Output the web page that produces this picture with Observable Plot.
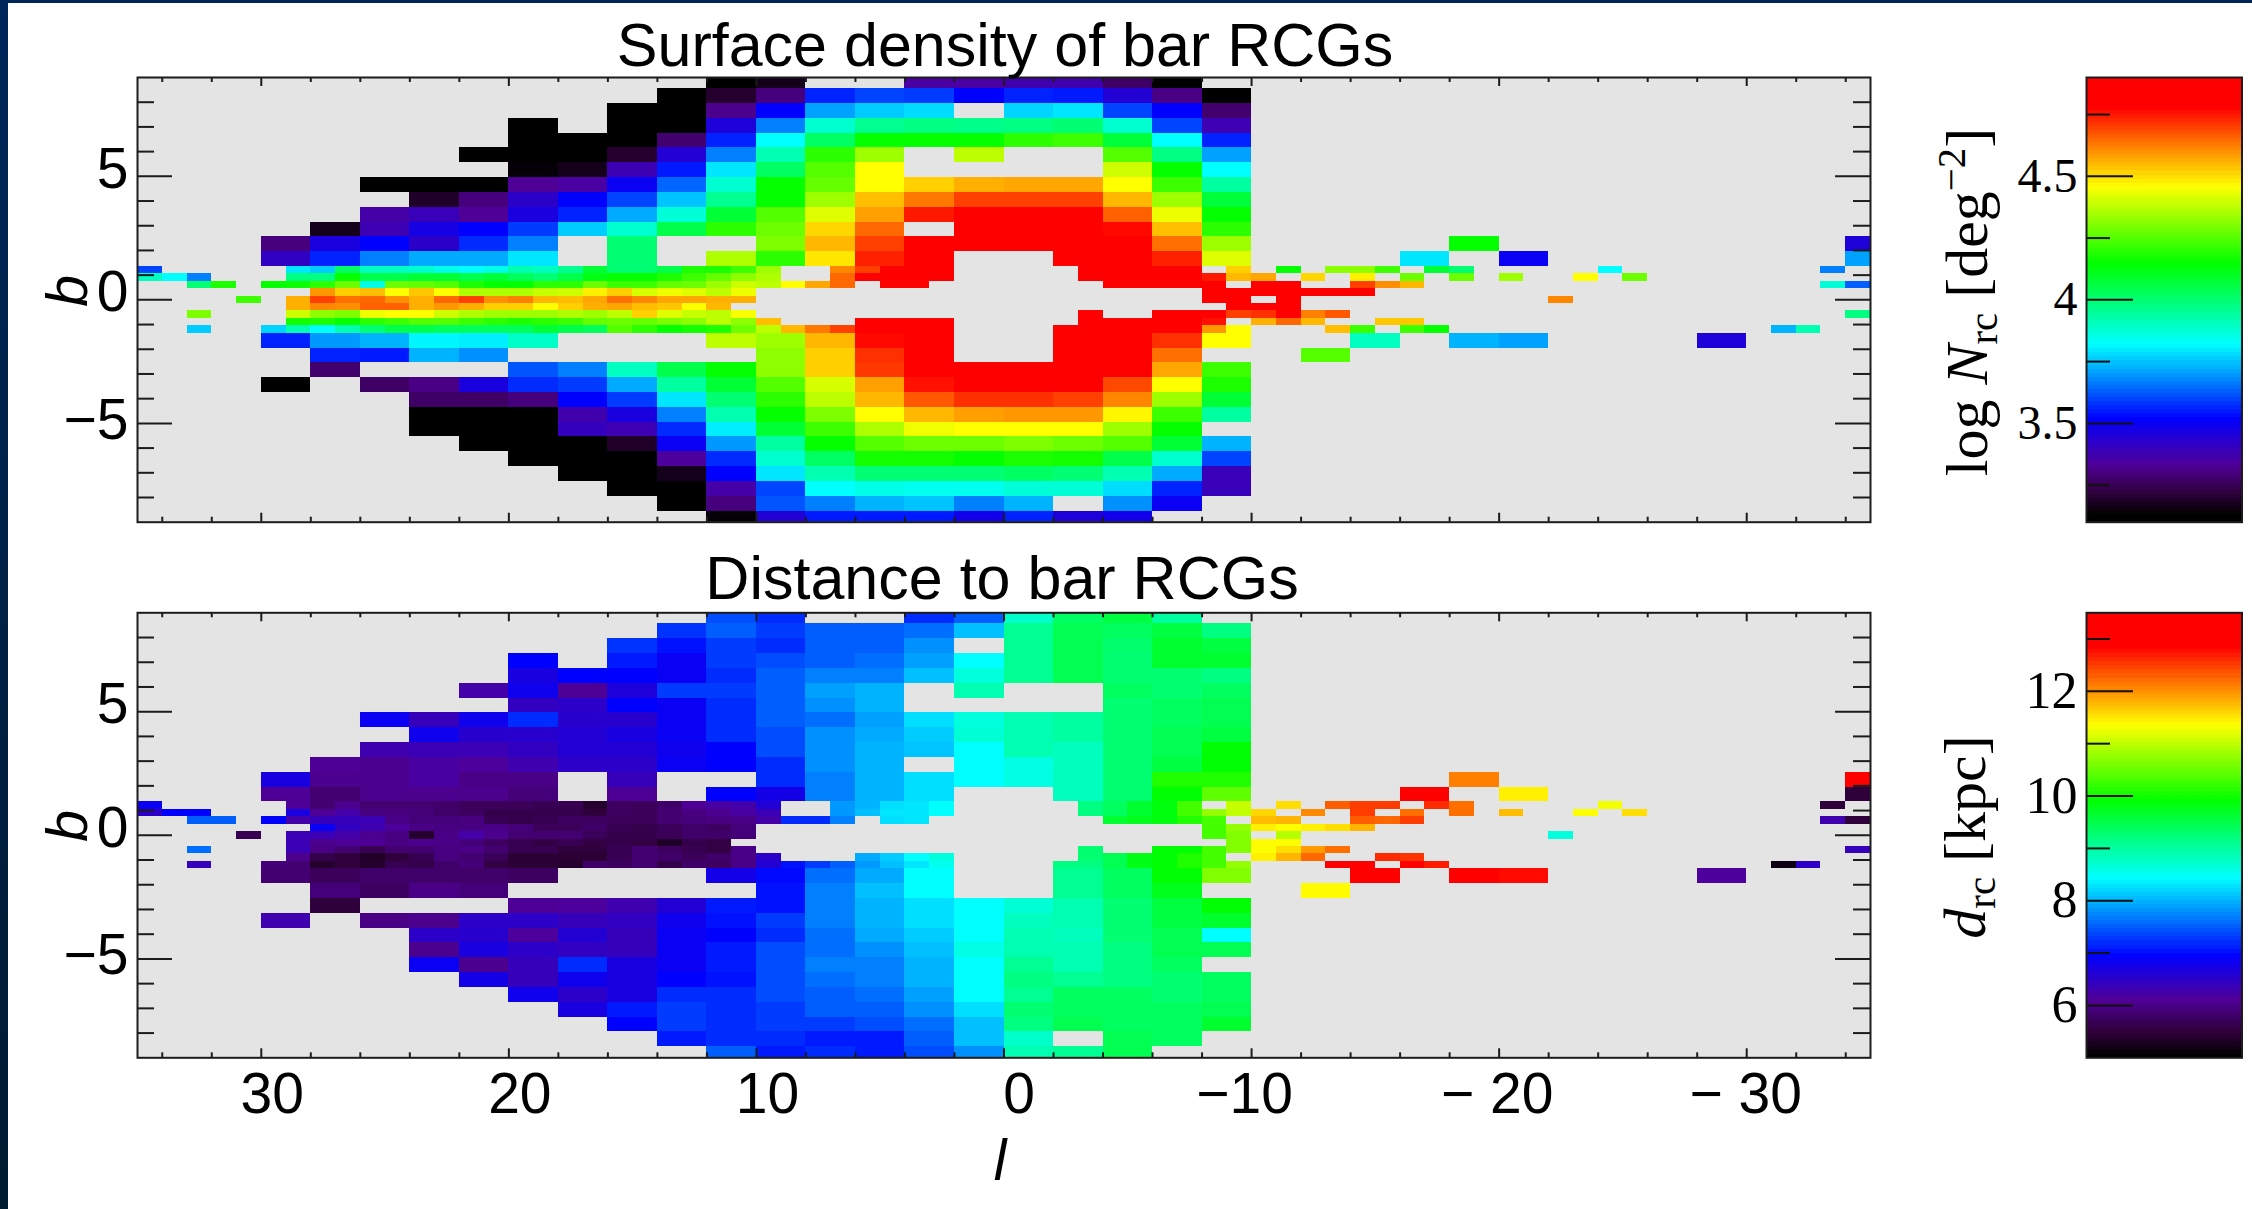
<!DOCTYPE html>
<html><head><meta charset="utf-8">
<script src="https://cdn.jsdelivr.net/npm/d3@7"></script>
<script src="https://cdn.jsdelivr.net/npm/@observablehq/plot@0.6"></script>
<style>
html,body{margin:0;padding:0;background:#fff;}
#page{position:relative;width:2252px;height:1209px;overflow:hidden;background:#fff;font-family:"Liberation Sans",sans-serif;color:#000;}
#page>div.plot{position:absolute;}
.t{position:absolute;white-space:nowrap;transform:translate(-50%,-50%);line-height:1;}
.r{transform:translate(-50%,-50%) rotate(-90deg);}
.s{font-family:"Liberation Serif",serif;}
.s sub{font-size:.68em;vertical-align:-.25em;line-height:0;}
.s sup{font-size:.68em;vertical-align:.55em;line-height:0;}
#sl{position:absolute;left:0;top:0;width:8px;height:1209px;background:linear-gradient(#00265a,#001a30);}
#st{position:absolute;left:0;top:0;width:2252px;height:3px;background:#00265a;}
</style></head><body><div id="page"><div id="sl"></div><div id="st"></div></div>
<script>
const _ = null;
// outer 2-degree columns: left edges of the twenty columns (l descending)
const outerLeft = [30,28,26,24,22,20,18,16,14,12,10,8,6,4,2,0,-2,-4,-6,-8];
// top edges of outer rows (top to bottom), each 0.6 deg tall
const upperTops = [9.15,8.55,7.95,7.35,6.75,6.15,5.55,4.95,4.35,3.75,3.15,2.55,1.95];
const lowerTops = [-1.35,-1.95,-2.55,-3.15,-3.75,-4.35,-4.95,-5.55,-6.15,-6.75,-7.35,-7.95,-8.55];
// top edges of the 0.3 deg inner rows, which have 1-degree columns
const innerTops = [1.35,1.05,0.75,0.45,0.15,-0.15,-0.45,-0.75,-1.05];

// log N_rc, upper rows from the top
const nU13=[_,_,_,_,_,_,_,_,_,3.12,3.17,_,_,3.35,3.35,3.37,3.37,3.27,3.12,_];
const nU12=[_,_,_,_,_,_,_,_,3.12,3.2,3.3,3.56,3.6,3.59,3.52,3.56,3.55,3.44,3.31,3.12];
const nU11=[_,_,_,_,_,_,_,3.12,3.12,3.32,3.52,3.71,3.76,3.78,_,3.77,3.79,3.6,3.52,3.28];
const nU10=[_,_,_,_,_,3.12,_,3.12,3.12,3.45,3.67,3.88,3.96,3.98,3.97,3.98,4.0,3.88,3.6,3.38];
const nU9=[_,_,_,_,_,3.12,3.12,3.12,3.28,3.56,3.82,4.02,4.15,4.15,4.15,4.2,4.22,4.07,3.82,3.56];
const nU8=[_,_,_,_,3.12,3.12,3.12,3.2,3.44,3.67,3.92,4.2,4.34,_,4.38,_,_,4.25,3.98,3.71];
const nU7=[_,_,_,_,_,3.14,3.17,3.38,3.55,3.79,4.02,4.25,4.46,_,_,_,_,4.4,4.15,3.82];
const nU6=[_,_,3.12,3.12,3.12,3.33,3.35,3.5,3.64,3.88,4.15,4.27,4.46,4.52,4.56,4.57,4.57,4.46,4.22,3.94];
const nU5=[_,_,_,3.19,3.3,3.42,3.52,3.6,3.75,3.96,4.15,4.34,4.54,4.63,4.7,4.7,4.7,4.55,4.34,4.07];
const nU4=[_,_,3.36,3.39,3.33,3.46,3.56,3.72,3.87,4.08,4.25,4.42,4.58,4.75,4.85,4.85,4.85,4.66,4.44,4.15];
const nU3=[_,3.17,3.38,3.47,3.52,3.59,3.76,3.88,4.05,4.2,4.28,4.51,4.65,_,4.85,4.85,4.85,4.77,4.54,4.2];
const nU2=[3.3,3.46,3.52,3.42,3.57,3.67,_,4.0,_,_,4.3,4.55,4.7,4.85,4.85,4.85,4.85,4.85,4.64,4.34];
const nU1=[3.41,3.56,3.67,3.72,3.72,3.79,_,4.0,_,4.36,4.2,4.49,4.74,4.85,_,_,4.85,4.85,4.74,4.42];
// log N_rc, lower rows
const nL1=[3.56,3.7,3.73,3.81,3.8,3.89,_,_,_,4.38,4.34,4.55,4.77,4.85,_,_,4.85,4.85,4.72,4.46];
const nL2=[_,3.56,3.55,3.73,3.69,_,_,_,_,_,4.32,4.52,4.72,4.85,_,_,4.85,4.85,4.64,_];
const nL3=[_,3.28,_,_,_,3.62,3.67,3.9,4.05,4.15,4.32,4.52,4.71,4.85,4.85,4.85,4.85,4.78,4.57,4.22];
const nL4=[3.12,_,3.27,3.31,3.46,3.57,3.59,3.72,3.94,4.08,4.25,4.41,4.58,4.76,4.85,4.85,4.85,4.69,4.46,4.18];
const nL5=[_,_,_,3.27,3.27,3.3,3.52,3.59,3.79,4.0,4.2,4.38,4.55,4.67,4.72,4.72,4.7,4.61,4.34,4.08];
const nL6=[_,_,_,3.12,3.12,3.13,3.37,3.46,3.67,3.92,4.15,4.3,4.46,4.55,4.58,4.59,4.59,4.47,4.22,3.94];
const nL7=[_,_,_,3.12,3.12,3.12,3.4,3.38,3.57,3.8,4.08,4.22,4.36,4.44,4.46,4.46,4.46,4.34,4.15,_];
const nL8=[_,_,_,_,3.12,3.12,3.12,3.19,3.5,3.7,3.94,4.15,4.25,4.28,4.28,4.3,4.28,4.25,4.08,3.73];
const nL9=[_,_,_,_,_,3.12,3.12,3.12,3.34,3.57,3.88,4.02,4.17,4.17,4.15,4.18,4.17,4.05,3.88,3.6];
const nL10=[_,_,_,_,_,_,3.12,3.12,3.17,3.52,3.79,3.92,4.0,4.0,4.0,4.02,4.0,3.92,3.72,3.39];
const nL11=[_,_,_,_,_,_,_,3.12,3.12,3.36,3.6,3.82,3.85,3.84,3.84,3.87,3.87,3.78,3.56,3.39];
const nL12=[_,_,_,_,_,_,_,_,3.12,3.3,3.62,3.67,3.73,3.75,3.67,3.73,_,3.69,3.5,_];
const nL13=[_,_,_,_,_,_,_,_,_,3.14,3.44,3.55,3.55,3.55,3.48,3.56,3.45,3.48,_,_];
// isolated 2-degree cells: [left l, top b, value]
const nTail=[[-18,2.55,4.15],[-16,1.95,3.79],[-20,1.95,3.5],[-34,2.55,3.45],[-34,1.95,3.71],[-14,-1.35,3.9],[-18,-1.35,3.73],[-20,-1.35,3.71],[-28,-1.35,3.45],[-12,-1.95,4.25]];
// inner rows: runs of 1-degree cells, [left l of the run, values...]
const nI1=[[35,3.6],[29,3.79,3.76,4.02,3.9,3.9,3.88,3.85,3.82,3.85,3.92,3.9,3.96,4.08,4.0,4.0,4.05,4.18,4.18,4.22,4.34],[7,4.61,4.7,4.85,4.85,4.85],[-3,4.85,4.85,4.85,4.85,4.85],[-9,4.52],[-11,4.15],[-13,4.32,4.32,4.22],[-17,4.08,4.0],[-24,3.82],[-33,3.67]];
const nI2=[[35,3.9,3.82,3.67],[29,3.98,3.98,4.15,4.05,4.05,4.08,4.08,4.05,4.07,4.03,4.0,4.05,4.12,4.15,4.15,4.18,4.22,4.27,4.32,4.36],[7,4.65,4.8,4.85,4.85,4.85],[-3,4.85,4.85,4.85,4.85,4.85,4.75,4.55,4.57],[-12,4.51],[-14,4.48],[-16,4.28],[-18,4.28],[-20,4.34],[-23,4.46],[-25,4.28]];
const nI3=[[33,4.0,4.18],[30,4.15,4.16,4.2,4.28,3.85,4.28,4.27,4.25,4.18,4.15,4.15,4.2,4.2,4.28,4.22,4.22,4.27,4.28,4.34,4.4,4.38,4.46,4.57,4.65],[5,4.85,4.85],[-4,4.85,4.85,4.85,4.85,4.85],[-10,4.85,4.85],[-14,4.7,4.6,4.55],[-33,3.87,3.63]];
const nI4=[[28,4.59,4.52,4.54,4.46,4.53,4.46,4.36,4.36,4.36,4.39,4.4,4.48,4.52,4.41,4.44,4.42,4.38,4.44],[-8,4.85,4.85,4.85,4.85,4.85,4.85,4.85]];
const nI5=[[31,4.22],[29,4.56,4.7,4.64,4.65,4.6,4.56,4.65,4.7,4.6,4.62,4.55,4.54,4.57,4.64,4.61,4.57,4.57,4.56,4.56],[-8,4.85,4.85],[-11,4.85],[-22,4.61]];
const nI6=[[29,4.56,4.61,4.6,4.66,4.66,4.56,4.59,4.56,4.52,4.52,4.46,4.52,4.56,4.57,4.54,4.53,4.46,4.55],[-9,4.85,4.85,4.85]];
const nI7=[[33,4.3],[29,4.4,4.32,4.3,4.44,4.46,4.46,4.4,4.36,4.34,4.34,4.34,4.36,4.34,4.38,4.52,4.42,4.39,4.38,4.45],[-3,4.85],[-6,4.85,4.85,4.85,4.7,4.72,4.85,4.62,4.67],[-34,3.98]];
const nI8=[[29,4.17,4.18,4.15,4.2,4.22,4.25,4.25,4.22,4.2,4.18,4.2,4.22,4.27,4.28,4.27,4.3,4.32,4.38,4.32,4.54],[6,4.85,4.85,4.85,4.85],[-3,4.85,4.85,4.85,4.85,4.85,4.76],[-10,4.56,4.65,4.55],[-15,4.53,4.53]];
const nI9=[[33,3.76],[30,3.77,3.92,3.82,3.92,4.0,4.05,4.05,4.03,4.03,4.03,4.03,4.08,4.05,4.03,4.25,4.2,4.15,4.17,4.18,4.28,4.38,4.55,4.63,4.7],[6,4.85,4.85,4.85,4.85],[-2,4.85,4.85,4.85,4.85,4.85,4.78,4.59,4.46],[-13,4.54,4.22],[-16,4.22,4.15],[-31,3.73,3.92]];

// d_rc in kpc
const dU13=[_,_,_,_,_,_,_,_,_,7.4,7.2,_,_,7.2,7.5,8.75,9.35,9.55,9.0,_];
const dU12=[_,_,_,_,_,_,_,_,7.25,7.5,7.3,7.5,7.5,7.6,8.08,9.08,9.46,9.37,9.55,9.18];
const dU11=[_,_,_,_,_,_,_,7.25,7.05,7.3,7.2,7.5,7.5,7.8,_,9.08,9.46,9.3,9.65,9.55];
const dU10=[_,_,_,_,_,6.95,_,7.1,6.85,7.3,7.4,7.5,7.6,7.89,8.45,9.08,9.46,9.27,9.65,9.65];
const dU9=[_,_,_,_,_,6.7,6.95,6.95,6.85,7.2,7.5,7.7,7.7,8.08,8.65,9.08,9.46,9.27,9.27,9.18];
const dU8=[_,_,_,_,6.25,6.8,6.1,6.65,7.3,7.3,7.5,7.89,8.0,_,8.9,_,_,9.37,9.27,9.37];
const dU7=[_,_,_,_,_,6.45,6.5,6.95,6.85,7.2,7.5,7.8,8.0,_,_,_,_,9.27,9.37,9.46];
const dU6=[_,_,6.85,6.4,6.8,7.2,6.55,6.55,6.85,7.2,7.5,7.6,7.89,8.26,8.65,8.9,9.0,9.27,9.37,9.46];
const dU5=[_,_,_,6.8,6.55,6.55,6.6,6.7,6.85,7.2,7.4,7.8,7.95,8.15,8.7,8.9,9.0,9.27,9.46,9.55];
const dU4=[_,_,6.3,6.35,6.35,6.45,6.6,6.6,6.8,6.95,7.4,7.8,8.0,8.1,8.45,8.9,8.82,9.27,9.46,9.9];
const dU3=[_,6.1,6.05,6.2,6.15,6.3,6.5,6.5,6.85,6.95,7.2,7.8,8.0,_,8.45,8.6,8.82,9.27,9.55,9.9];
const dU2=[6.7,6.05,6.05,6.2,6.0,6.0,_,6.4,_,_,7.2,7.7,8.0,8.26,8.45,8.6,8.82,9.27,10.1,10.1];
const dU1=[6.1,5.85,6.05,6.05,6.05,5.9,_,6.1,_,6.95,6.75,7.7,8.0,8.26,_,_,8.82,9.27,9.9,10.45];
const dL1=[5.85,5.7,5.8,5.8,5.8,5.75,_,_,_,6.75,7.0,7.6,7.95,8.45,_,_,9.08,9.37,9.9,10.65];
const dL2=[_,5.9,5.75,6.0,5.9,_,_,_,_,_,7.05,7.7,8.08,8.45,_,_,9.08,9.37,9.75,_];
const dL3=[_,5.5,_,_,_,6.1,6.15,6.3,6.6,7.1,7.05,7.7,8.0,8.26,8.45,8.7,8.9,9.27,9.55,9.9];
const dL4=[6.3,_,6.0,6.05,6.5,6.5,6.4,6.45,6.8,7.05,7.3,7.7,8.0,8.26,8.45,8.82,8.9,9.27,9.55,9.65];
const dL5=[_,_,_,6.5,6.55,6.15,6.6,6.4,6.85,6.95,7.2,7.6,7.95,8.15,8.45,8.9,8.82,9.27,9.46,8.45];
const dL6=[_,_,_,6.05,6.7,6.5,6.45,6.4,6.85,7.1,7.4,7.6,7.8,8.08,8.6,8.9,8.9,9.18,9.46,9.46];
const dL7=[_,_,_,6.85,6.05,6.4,7.2,6.7,6.85,7.1,7.4,7.7,7.7,8.0,8.45,9.08,8.9,9.18,9.37,_];
const dL8=[_,_,_,_,6.75,6.4,6.8,6.7,6.95,7.05,7.4,7.6,7.7,8.0,8.45,9.18,9.08,9.18,9.27,9.37];
const dL9=[_,_,_,_,_,6.8,6.5,6.7,7.2,7.2,7.4,7.5,7.6,7.89,8.45,9.08,9.37,9.37,9.27,9.37];
const dL10=[_,_,_,_,_,_,6.7,7.1,7.3,7.2,7.3,7.5,7.5,7.8,8.26,9.27,9.37,9.37,9.37,9.46];
const dL11=[_,_,_,_,_,_,_,6.95,7.3,7.2,7.3,7.3,7.4,7.6,8.08,9.18,9.46,9.37,9.37,9.65];
const dL12=[_,_,_,_,_,_,_,_,7.1,7.2,7.2,7.1,7.1,7.5,8.08,8.75,_,9.46,9.37,_];
const dL13=[_,_,_,_,_,_,_,_,_,7.5,7.1,7.2,7.1,7.4,7.8,8.9,9.08,9.46,_,_];
const dTail=[[-18,2.55,12.1],[-16,1.95,12.85],[-20,1.95,11.45],[-34,2.55,13],[-34,1.95,5.5],[-14,-1.35,13],[-18,-1.35,13],[-20,-1.35,12.8],[-28,-1.35,6.15],[-12,-1.95,11.38]];
const dI1=[[35,6.85],[29,6.1,5.85,6.05,5.85,5.85,5.85,5.8,5.7,5.7,5.7,5.65,5.65,5.4,5.75,5.7,5.8,6.1,6.2,6.25,6.6],[7,7.85,8.0,8.26,8.3,8.45],[-3,9.18,9.37,9.65,9.85,10.3],[-9,11.05],[-11,11.55],[-13,12.3,12.5,12.5],[-17,12.6,12.2],[-24,11.3],[-33,5.5]];
const dI2=[[35,6.5,6.95,6.95],[29,6.7,6.1,6.25,5.95,5.95,5.9,5.8,5.75,5.6,5.6,5.6,5.6,5.5,5.75,5.7,5.85,5.95,6.05,6.2,6.35],[7,7.85,8.08,8.3,8.3,8.45],[-3,9.18,9.37,9.65,9.85,10.3,10.75,11.0,11.6],[-12,12.05],[-14,12.5],[-16,12.2],[-18,12.2],[-20,11.75],[-23,11.35],[-25,11.55]];
const dI3=[[33,7.5,7.5],[30,6.95,6.25,6.4,6.4,6.35,6.0,5.9,5.9,5.95,5.65,5.6,5.65,5.75,5.75,5.7,5.7,5.85,5.9,5.95,6.0,6.25,7.2,7.2,7.7],[5,8.26,8.3],[-4,9.65,9.75,9.85,10.1,10.3],[-10,11.75,11.8],[-14,12.3,12.25,12.5],[-33,6.3,5.5]];
const dI4=[[28,6.85,6.45,6.3,6.15,6.0,5.95,5.95,6.0,5.9,5.7,5.7,5.8,5.65,5.6,5.7,5.8,5.75,5.9],[-8,10.3,10.75,11.45,11.35,11.45,11.55,11.8]];
const dI5=[[31,5.65],[29,6.35,6.35,6.25,6.05,5.95,5.4,6.0,6.25,6.05,5.85,5.85,5.85,5.7,5.6,5.6,5.7,5.8,5.8,5.9],[-8,10.3,10.65],[-11,10.95],[-22,8.65]];
const dI6=[[29,6.35,6.05,6.1,6.1,5.95,6.05,6.0,5.9,5.75,5.65,5.55,5.65,5.55,5.6,5.55,5.35,5.6,5.55],[-9,10.65,11.38,11.35]];
const dI7=[[33,7.6],[29,6.35,6.0,5.85,5.65,5.85,5.85,5.95,6.0,5.85,5.65,5.65,5.5,5.5,5.65,5.85,5.75,5.65,5.55,6.0],[-3,9.27],[-6,9.9,9.9,10.3,10.65,11.35,11.55,11.95,12.2],[-34,6.4]];
const dI8=[[29,6.05,5.6,5.5,5.35,5.5,5.65,5.95,5.85,5.7,5.45,5.45,5.45,5.45,5.65,5.85,5.8,5.7,5.8,6.0,6.5],[6,7.95,8.15,8.45,8.65],[-3,9.27,9.46,9.8,9.9,10.1,10.3],[-10,11.45,11.8,12.25],[-15,12.6,12.55]];
const dI9=[[33,6.4],[30,5.9,5.85,5.4,5.5,5.4,5.65,5.6,5.8,5.9,5.55,5.45,5.45,5.4,5.8,5.75,5.85,5.6,5.8,5.75,6.0,6.6,7.05,7.3,7.5],[6,7.85,8.08,8.3,8.55],[-2,9.18,9.18,9.46,9.8,9.9,10.1,10.3,10.75],[-13,13,13],[-16,13,12.7],[-31,5.2,6.5]];

const nUpper=[nU13,nU12,nU11,nU10,nU9,nU8,nU7,nU6,nU5,nU4,nU3,nU2,nU1];
const nLower=[nL1,nL2,nL3,nL4,nL5,nL6,nL7,nL8,nL9,nL10,nL11,nL12,nL13];
const nInner=[nI1,nI2,nI3,nI4,nI5,nI6,nI7,nI8,nI9];
const dUpper=[dU13,dU12,dU11,dU10,dU9,dU8,dU7,dU6,dU5,dU4,dU3,dU2,dU1];
const dLower=[dL1,dL2,dL3,dL4,dL5,dL6,dL7,dL8,dL9,dL10,dL11,dL12,dL13];
const dInner=[dI1,dI2,dI3,dI4,dI5,dI6,dI7,dI8,dI9];

// axis ticks and labels
const lMajor=[30,20,10,0,-10,-20,-30];
const lMinor=[34,32,28,26,24,22,18,16,14,12,8,6,4,2,-2,-4,-6,-8,-12,-14,-16,-18,-22,-24,-26,-28,-32,-34];
const bMajor=[5,0,-5];
const bMinor=[8,7,6,4,3,2,1,-1,-2,-3,-4,-6,-7,-8];
const lLabels=new Map([[30,"30"],[20,"20"],[10,"10"],[0,"0"],[-10,"\u221210"],[-20,"\u2212 20"],[-30,"\u2212 30"]]);
const bLabels=new Map([[5,"5"],[0,"0"],[-5,"\u22125"]]);
const nTicksMajor=[4.5,4,3.5], nTicksMinor=[4.75,4.25,3.75,3.25];
const dTicksMajor=[12,10,8,6], dTicksMinor=[13,11,9,7];
const rainbow=["#000000","#30003c","#50009a","#0000ff","#00ffff","#00ff00","#ffff00","#ff0000","#ff0000"];
const nStops=[3.13,3.22,3.335,3.52,3.82,4.146,4.46,4.78,4.9];
const dStops=[5.05,5.5,6.13,6.95,8.45,9.92,11.36,12.85,13.5];

function flatten(upper,lower,inner,tail){
  const out=[];
  const outer=(rows,tops)=>rows.forEach((row,r)=>row.forEach((v,c)=>{
    if(v!==null) out.push({l1:outerLeft[c],l2:outerLeft[c]-2,b1:tops[r],b2:tops[r]-0.6,v});
  }));
  outer(upper,upperTops); outer(lower,lowerTops);
  inner.forEach((runs,r)=>runs.forEach(([start,...vals])=>vals.forEach((v,i)=>{
    out.push({l1:start-i,l2:start-i-1,b1:innerTops[r],b2:innerTops[r]-0.3,v});
  })));
  tail.forEach(([l,b,v])=>out.push({l1:l,l2:l-2,b1:b,b2:b-0.6,v}));
  return out;
}

const ink="#1c1c1c";
const W=1900;
function panel({cells,stops,top,height,marginTop,marginBottom,xLabels}){
  const innerH=height-marginTop-marginBottom, innerW=W-137-30;
  const tx=(o)=>Plot.ruleX(o.ticks,{stroke:ink,strokeWidth:2,[o.side]:innerH-o.len});
  const ty=(o)=>Plot.ruleY(o.ticks,{stroke:ink,strokeWidth:2,[o.side]:innerW-o.len});
  const ylab=(t,dy)=>Plot.axisY(t,{anchor:"left",tickSize:0,tickPadding:9,dy,fontSize:57,label:null,tickFormat:d=>bLabels.get(d),fill:"#000",stroke:"none"});
  const marks=[
    Plot.frame({fill:"#e4e4e4",stroke:"none"}),
    Plot.rect(cells,{x1:"l1",x2:"l2",y1:"b2",y2:"b1",fill:"v",clip:true,shapeRendering:"crispEdges"}),
    tx({ticks:lMinor,side:"insetTop",len:5}), tx({ticks:lMajor,side:"insetTop",len:9}),
    tx({ticks:lMinor,side:"insetBottom",len:5}), tx({ticks:lMajor,side:"insetBottom",len:9}),
    ty({ticks:bMinor,side:"insetRight",len:17}), ty({ticks:bMajor,side:"insetRight",len:35}),
    ty({ticks:bMinor,side:"insetLeft",len:17}), ty({ticks:bMajor,side:"insetLeft",len:35}),
    Plot.frame({stroke:ink,strokeWidth:2,fill:"none"}),
    ylab([5,0],-7), ylab([-5],-3)
  ];
  if(xLabels){
    const xlab=(t,dx)=>Plot.axisX(t,{anchor:"bottom",tickSize:0,tickPadding:15,dx,fontSize:57,label:null,tickFormat:d=>lLabels.get(d),fill:"#000",stroke:"none"});
    marks.push(xlab([30,20,10],11),xlab([0],15),xlab([-10],-7),xlab([-20],-2),xlab([-30],-1));
  }
  const el=Plot.plot({width:W,height,marginLeft:137,marginRight:30,marginTop,marginBottom,
    style:{fontFamily:"Liberation Sans",background:"transparent",overflow:"visible"},
    x:{domain:[35,-35],axis:null},y:{domain:[-9,9],axis:null},
    color:{type:"linear",domain:stops,range:rainbow,interpolate:"rgb",clamp:true},
    marks});
  place(el,0,top);
}
function colorbar({stops,top,height,marginTop,marginBottom,major,minor,fontSize,dom}){
  const left=1960, width=292, mL=2086-left, mR=2252-2241.5;
  const iw=width-mL-mR;
  const el=Plot.plot({width,height,marginLeft:mL,marginRight:mR,marginTop,marginBottom,
    style:{fontFamily:"Liberation Serif",background:"transparent",overflow:"visible"},
    x:{domain:[0,1],axis:null},y:{domain:dom,axis:null},
    color:{type:"linear",domain:stops,range:rainbow,interpolate:"rgb",clamp:true},
    marks:[
      Plot.raster({x1:0,x2:1,y1:dom[0],y2:dom[1],width:1,height:110,fill:(x,y)=>y,imageRendering:"pixelated"}),
      Plot.ruleY(minor,{stroke:"#111",strokeWidth:2,insetRight:iw-24}),
      Plot.ruleY(major,{stroke:"#111",strokeWidth:2,insetRight:iw-47}),
      Plot.frame({stroke:ink,strokeWidth:2,fill:"none"}),
      Plot.axisY(major,{anchor:"left",tickSize:0,tickPadding:9,fontSize,label:null,tickFormat:d=>String(d),fill:"#000",stroke:"none"})
    ]});
  place(el,left,top);
}
const page=document.getElementById("page");
function place(el,left,top){
  const w=document.createElement("div"); w.className="plot";
  w.style.left=left+"px"; w.style.top=top+"px"; w.appendChild(el); page.appendChild(w);
}
function label(html,x,y,size,cls){
  const d=document.createElement("div"); d.className="t "+(cls||"");
  d.style.left=x+"px"; d.style.top=y+"px"; d.style.fontSize=size+"px"; d.innerHTML=html; page.appendChild(d);
}

panel({cells:flatten(nUpper,nLower,nInner,nTail),stops:nStops,top:0,height:530,marginTop:77,marginBottom:8.3,xLabels:false});
panel({cells:flatten(dUpper,dLower,dInner,dTail),stops:dStops,top:560,height:649,marginTop:52.3,marginBottom:151.7,xLabels:true});
colorbar({stops:nStops,top:0,height:530,marginTop:77,marginBottom:8.3,major:nTicksMajor,minor:nTicksMinor,fontSize:48,dom:[3.1,4.9]});
colorbar({stops:dStops,top:560,height:649,marginTop:52.3,marginBottom:151.7,major:dTicksMajor,minor:dTicksMinor,fontSize:52,dom:[5,13.5]});

label("Surface density of bar RCGs",1005,45,61);
label("Distance to bar RCGs",1002,578,61);
label("<i>b</i>",67,291,57,"r");
label("<i>b</i>",67,826,57,"r");
label("<i>l</i>",1000,1160,57);
label("log <i>N</i><sub>rc</sub> [deg<sup>\u22122</sup>]",1967,302,60,"r s");
label("<i>d</i><sub>rc</sub> [kpc]",1965,837,60,"r s");
</script></body></html>
